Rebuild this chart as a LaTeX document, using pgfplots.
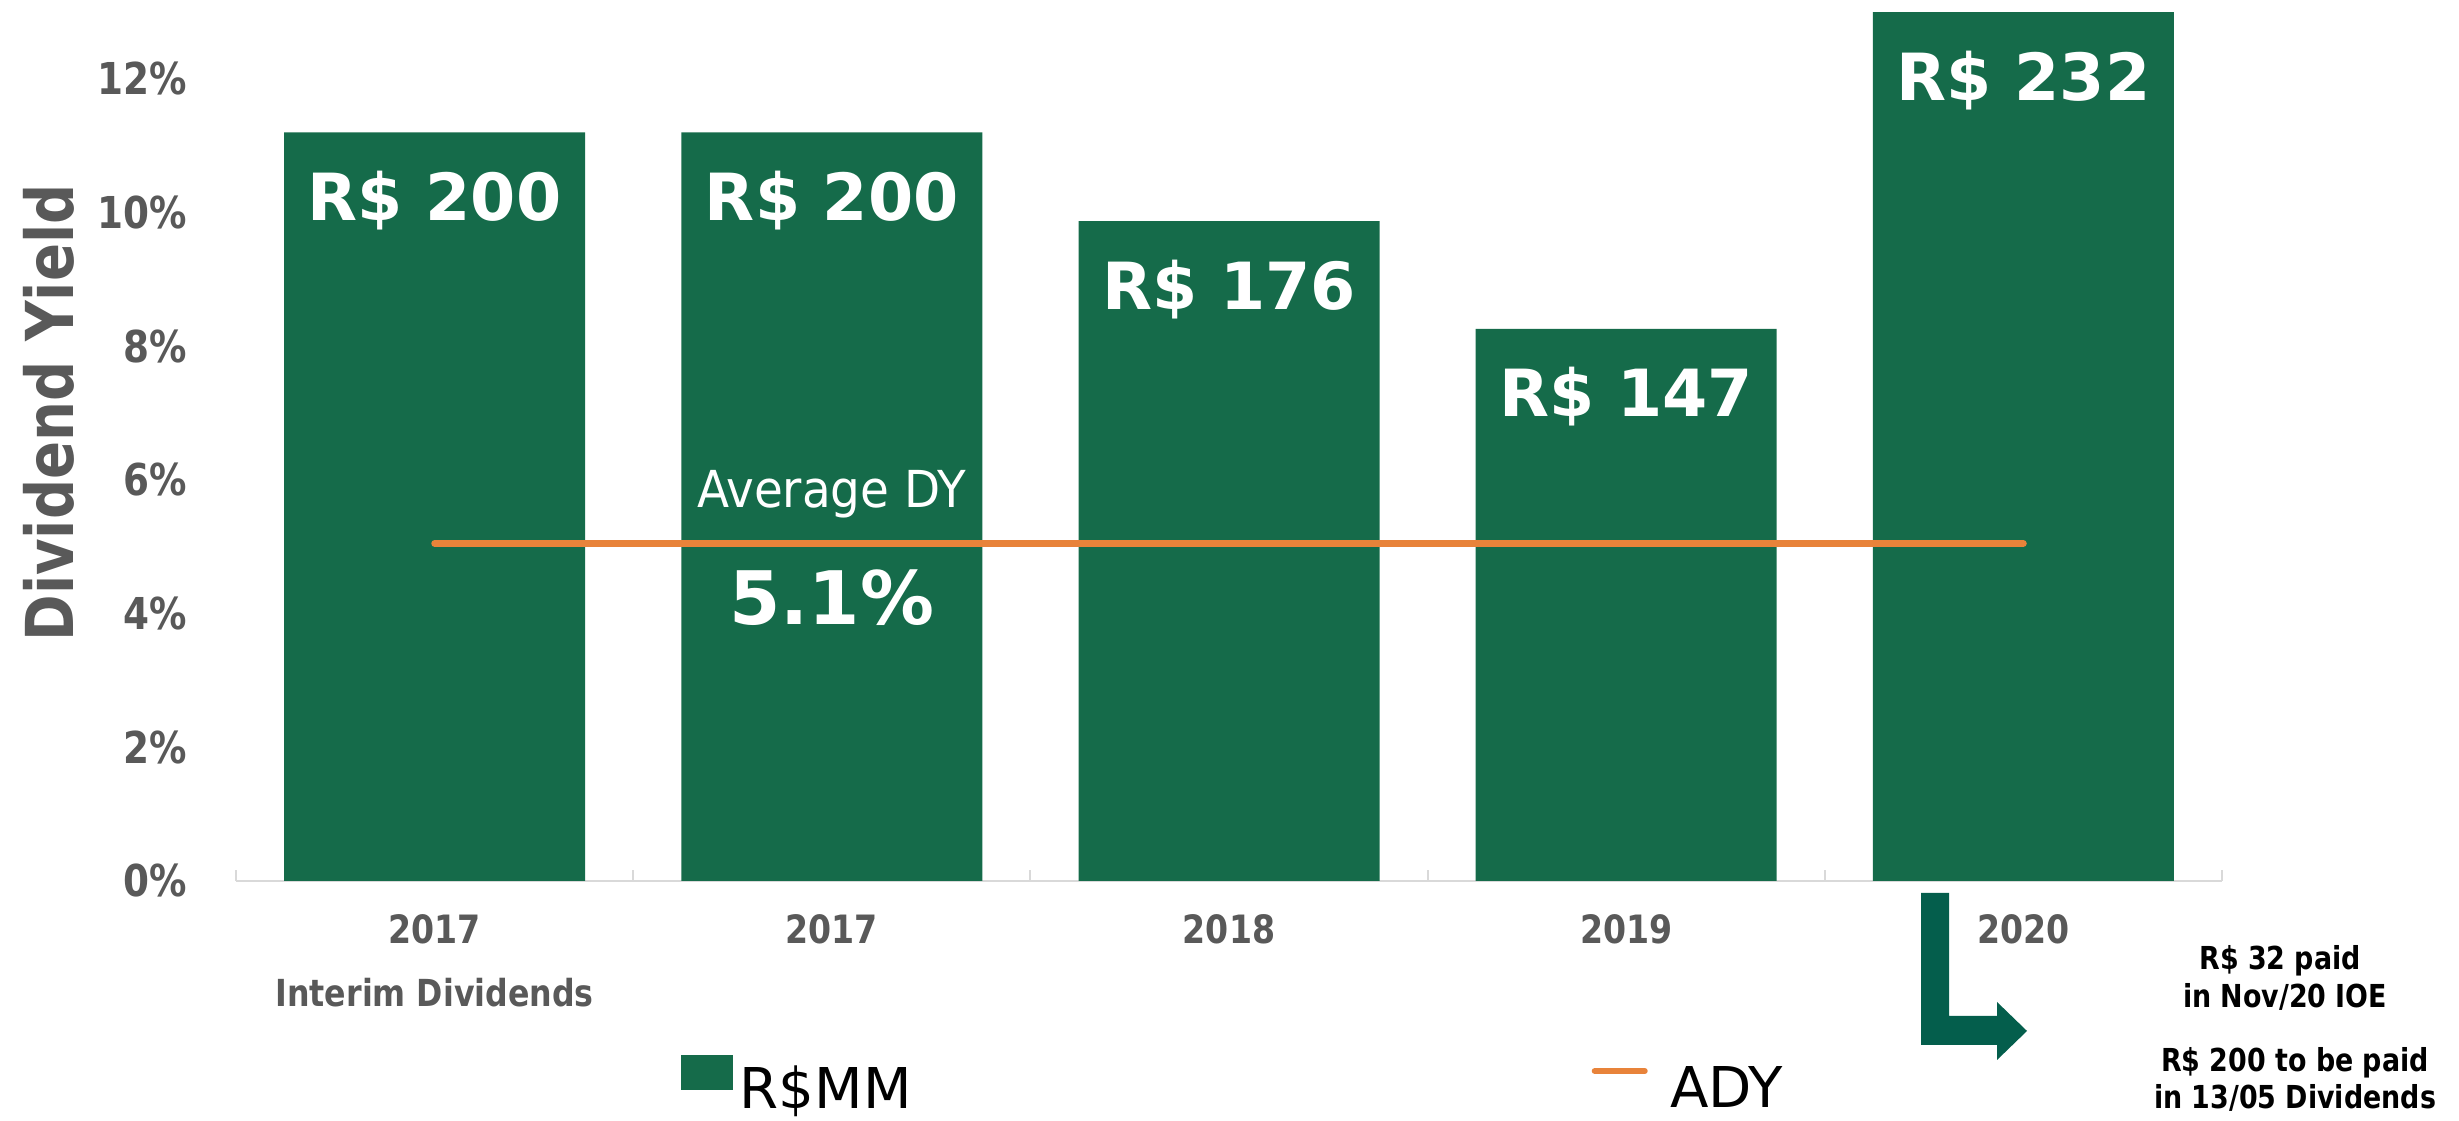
\documentclass[border=0pt]{standalone}
\usepackage{pgfplots}
\pgfplotsset{compat=1.18}
\usepackage{fontspec}
\setmainfont{DejaVu Sans}
\newfontfamily\cond[FakeStretch=0.85]{DejaVu Sans}
\newfontfamily\semicond[FakeStretch=0.92]{DejaVu Sans}
\definecolor{barg}{RGB}{21,107,74}
\definecolor{arrowg}{RGB}{4,94,76}
\definecolor{ady}{RGB}{232,131,58}
\definecolor{txtgray}{RGB}{89,89,89}
\definecolor{axgray}{RGB}{217,217,217}
\begin{document}
\begin{tikzpicture}
\useasboundingbox (0,0) rectangle (245.9mm,112.1mm);
\begin{axis}[
  at={(23.6mm,24.0mm)}, anchor=south west,
  scale only axis, width=198.6mm, height=88.1mm,
  xmin=-0.5, xmax=4.5, ymin=0, ymax=13.18,
  clip=false,
  axis x line*=bottom, axis y line*=left,
  x axis line style={draw=axgray, line width=0.25mm, -},
  y axis line style={draw=none},
  xtick={0,1,2,3,4},
  xticklabels={2017,2017,2018,2019,2020},
  minor xtick={-0.5,0.5,1.5,2.5,3.5,4.5},
  major x tick style={draw=none},
  minor x tick style={draw=axgray, line width=0.2mm},
  xtick align=inside, minor tick length=1.1mm,
  ytick={0,2,4,6,8,10,12},
  yticklabels={0\%,2\%,4\%,6\%,8\%,10\%,12\%},
  ytick style={draw=none},
  xticklabel style={anchor=base, inner sep=0pt, yshift=-6.3mm, text=txtgray, font=\cond\bfseries\fontsize{11.1}{13}\selectfont},
  yticklabel style={anchor=east, inner sep=0pt, xshift=-4.8mm, text=txtgray, font=\cond\bfseries\fontsize{12.5}{15}\selectfont},
  legend columns=2,
  legend style={draw=none, fill=none, inner sep=0pt, at={(0.2236,-0.235)}, anchor=west,
    font=\fontsize{16}{19}\selectfont,
    /tikz/every even column/.append style={column sep=67.3mm}},
]
\addplot[ybar, bar width=30.1mm, fill=barg, draw=none,
  point meta=explicit symbolic,
  nodes near coords={R\$ \pgfplotspointmeta},
  nodes near coords style={anchor=base, yshift=-8.8mm, text=white, font=\bfseries\fontsize{18.5}{22}\selectfont},
  legend image code/.code={\fill[barg] (0mm,0mm) rectangle (5.2mm,3.5mm);}]
  coordinates {(0,11.20) [200] (1,11.20) [200] (2,9.87) [176] (3,8.26) [147] (4,13.0) [232]};
\addlegendentry{R\$MM}
\addplot[ady, line width=0.67mm, line cap=round,
  legend image code/.code={\draw[ady, line width=0.6mm, line cap=round] (0mm,1.9mm) -- (5mm,1.9mm); \path (6.5mm,1.9mm);}]
  coordinates {(0,5.05) (4,5.05)};
\addlegendentry{ADY}
\node[anchor=base, text=white, font=\semicond\fontsize{14.5}{17}\selectfont] at (axis cs:1,5.59) {Average DY};
\node[anchor=base, text=white, font=\bfseries\fontsize{21}{25}\selectfont] at (axis cs:1,3.84) {5.1\%};
\node[anchor=base, inner sep=0pt, text=txtgray, font=\cond\bfseries\fontsize{10.6}{13}\selectfont] at (axis cs:0,0) [yshift=-12.6mm] {Interim Dividends};
\end{axis}
\node[rotate=90, text=txtgray, font=\cond\bfseries\fontsize{18.8}{22}\selectfont] at (4.9mm,70.8mm) {Dividend Yield};
\fill[arrowg] (192.1mm,22.8mm) -- (194.9mm,22.8mm) -- (194.9mm,10.5mm) -- (199.7mm,10.5mm) -- (199.7mm,11.9mm) -- (202.7mm,9.0mm) -- (199.7mm,6.1mm) -- (199.7mm,7.6mm) -- (192.1mm,7.6mm) -- cycle;
\begin{scope}[every node/.style={anchor=base, inner sep=0pt, font=\cond\bfseries\fontsize{9}{11}\selectfont}]
\node at (228.0mm,15.1mm) {R\$ 32 paid};
\node at (228.5mm,11.3mm) {in Nov/20 IOE};
\node at (229.5mm,4.9mm) {R\$ 200 to be paid};
\node at (229.5mm,1.2mm) {in 13/05 Dividends};
\end{scope}
\end{tikzpicture}
\end{document}
